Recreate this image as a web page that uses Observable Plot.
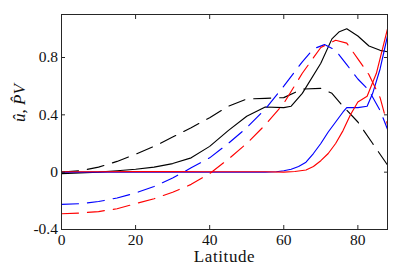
<!DOCTYPE html>
<html>
<head>
<meta charset="utf-8">
<script src="https://cdn.jsdelivr.net/npm/d3@7"></script>
<script src="https://cdn.jsdelivr.net/npm/@observablehq/plot@0.6"></script>
<style>
html, body { margin: 0; padding: 0; background: #fff; }
</style>
</head>
<body>
<div id="chart"></div>
<script>
// Black solid
const latKS = [0, 5, 10, 15, 20, 25, 30, 35, 40, 45, 50, 55, 60, 62, 65, 70, 73, 75, 77, 80, 83, 86, 88];
const valKS = [-0.01, -0.005, 0.0, 0.01, 0.02, 0.035, 0.06, 0.1, 0.18, 0.29, 0.39, 0.455, 0.45, 0.46, 0.55, 0.76, 0.93, 0.98, 1.0, 0.95, 0.88, 0.85, 0.84];
// Black dashed
const latKD = [0, 5, 10, 15, 20, 25, 30, 35, 40, 45, 50, 55, 60, 65, 70, 73, 76, 80, 84, 88];
const valKD = [0.0, 0.01, 0.035, 0.075, 0.125, 0.18, 0.245, 0.31, 0.38, 0.46, 0.51, 0.515, 0.52, 0.58, 0.585, 0.55, 0.46, 0.35, 0.2, 0.05];
// Blue solid
const latBS = [0, 10, 20, 30, 40, 50, 55, 58, 60, 62, 64, 66, 68, 70, 72, 74, 76, 77, 80, 82.5, 84, 86, 88];
const valBS = [0, 0, 0, 0, 0, 0, 0, 0.003, 0.01, 0.02, 0.04, 0.07, 0.13, 0.2, 0.28, 0.35, 0.42, 0.45, 0.45, 0.46, 0.55, 0.72, 0.95];
// Blue dashed
const latBD = [0, 5, 10, 15, 20, 25, 30, 35, 40, 45, 50, 55, 60, 65, 68, 71, 74, 77, 80, 83, 86, 88];
const valBD = [-0.225, -0.22, -0.205, -0.18, -0.145, -0.1, -0.04, 0.03, 0.1, 0.2, 0.31, 0.44, 0.6, 0.77, 0.86, 0.89, 0.85, 0.75, 0.65, 0.57, 0.43, 0.3];
// Red solid
const latRS = [0, 10, 20, 30, 40, 50, 55, 60, 63, 66, 68, 70, 72, 74, 76, 78, 80, 82.5, 85, 88];
const valRS = [0.003, 0.003, 0.004, 0.004, 0.003, 0.003, 0.003, 0.0, 0.005, 0.015, 0.04, 0.08, 0.13, 0.2, 0.29, 0.4, 0.49, 0.53, 0.69, 1.0];
// Red dashed
const latRD = [0, 5, 10, 15, 20, 25, 30, 35, 40, 45, 50, 55, 60, 65, 70, 74, 77, 80, 83, 86, 88];
const valRD = [-0.29, -0.285, -0.275, -0.255, -0.22, -0.185, -0.14, -0.085, -0.01, 0.09, 0.2, 0.33, 0.48, 0.69, 0.87, 0.92, 0.9, 0.79, 0.68, 0.52, 0.33];

const xTicks = [0, 20, 40, 60, 80];
const yTicks = [-0.4, 0, 0.4, 0.8];
const yTickLabels = ["-0.4", "0", "0.4", "0.8"];
const xLabel = "Latitude";
const yLabel = "û, P̂V";

const series = [
  {lat: latKS, val: valKS, color: "#000000", dash: null},
  {lat: latKD, val: valKD, color: "#000000", dash: "17,9"},
  {lat: latBS, val: valBS, color: "#0000ff", dash: null},
  {lat: latBD, val: valBD, color: "#0000ff", dash: "17,9"},
  {lat: latRS, val: valRS, color: "#ff0000", dash: null},
  {lat: latRD, val: valRD, color: "#ff0000", dash: "17,9"}
];

const toRows = s => s.lat.map((x, i) => ({x, y: s.val[i]}));
const axisColor = "#262626";
const serif = "'Liberation Serif', 'DejaVu Serif', serif";

const chart = Plot.plot({
  width: 409,
  height: 273,
  marginLeft: 61,
  marginRight: 22,
  marginTop: 14,
  marginBottom: 44,
  style: {fontFamily: serif, fontSize: "15.5px", color: axisColor, background: "#fff"},
  x: {domain: [0, 88]},
  y: {domain: [-0.4, 1.1]},
  marks: [
    ...series.map(s => Plot.line(toRows(s), {x: "x", y: "y", stroke: s.color, strokeWidth: 1.15, strokeDasharray: s.dash})),
    Plot.frame({stroke: axisColor, strokeWidth: 1}),
    Plot.axisX({anchor: "bottom", ticks: xTicks, tickSize: -4, tickPadding: 8.5, label: null, stroke: axisColor, fill: "#111", fontSize: 15.5}),
    Plot.axisX({anchor: "top", ticks: xTicks, tickSize: -4, tickFormat: () => "", label: null, stroke: axisColor}),
    Plot.axisY({anchor: "left", ticks: yTicks, tickSize: -4, tickPadding: 7.5, tickFormat: d => yTickLabels[yTicks.indexOf(d)], label: null, stroke: axisColor, fill: "#111", fontSize: 15.5}),
    Plot.axisY({anchor: "right", ticks: yTicks, tickSize: -4, tickFormat: () => "", label: null, stroke: axisColor}),
    Plot.text([xLabel], {frameAnchor: "bottom", dy: 32.5, text: d => d, fontSize: 17, fill: "#111"}),
    Plot.text([yLabel], {frameAnchor: "left", dx: -42, rotate: -90, text: d => d, fontSize: 17, fontStyle: "italic", fill: "#111"})
  ]
});
d3.select(chart).selectAll("text").filter(function() { return this.textContent === xLabel; }).attr("letter-spacing", "0.6px");
document.getElementById("chart").appendChild(chart);
</script>
</body>
</html>
